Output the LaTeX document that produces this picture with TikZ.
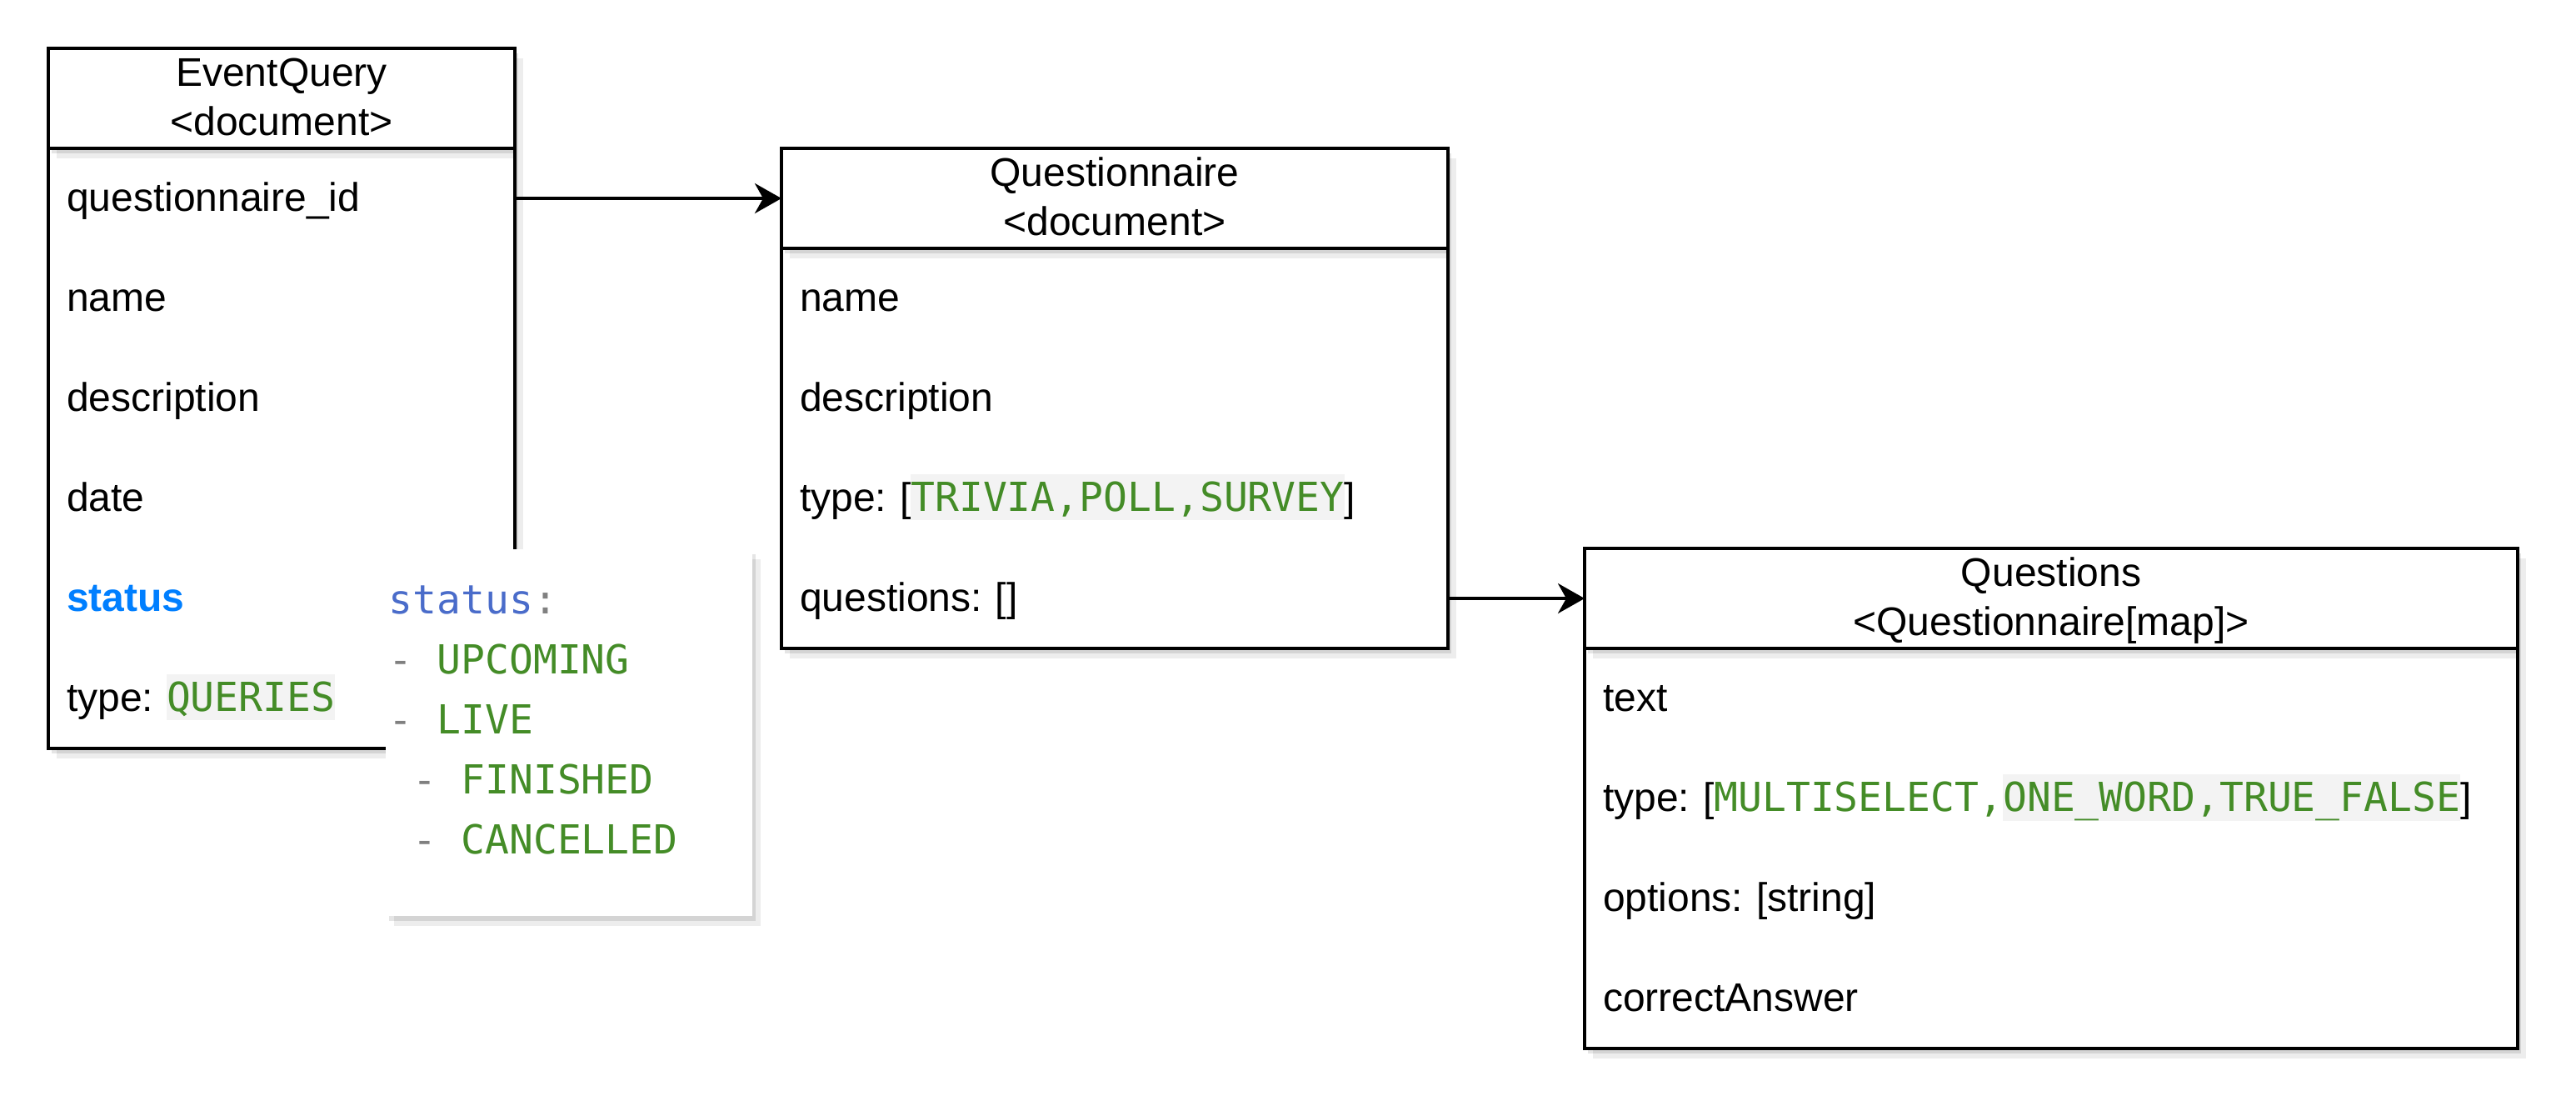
\documentclass[tikz,border=0pt]{standalone}
\usepackage{fontspec}
\setmainfont{Liberation Sans}
\newfontfamily\codefont{DejaVu Sans Mono}
\usetikzlibrary{arrows.meta,positioning,calc,shadows}

\definecolor{codegreen}{HTML}{448C27}
\definecolor{keyblue}{HTML}{4A6CCA}
\definecolor{dashgray}{HTML}{808080}
\definecolor{codebg}{HTML}{F3F3F3}
\definecolor{linkblue}{HTML}{007FFF}

\newcommand{\code}[1]{{\codefont\color{codegreen}#1}}
\newcommand{\codebox}[1]{{\setlength{\fboxsep}{0pt}\colorbox{codebg}{\rule[-2.8pt]{0pt}{13.9pt}\code{#1}}}}

\begin{document}
\frenchspacing
\begin{tikzpicture}[x=1pt, y=1pt,
		every node/.style={font=\fontsize{12}{14.4}\selectfont},
		softshadow/.style={drop shadow={shadow xshift=1pt, shadow yshift=-1.5pt, opacity=0.10, fill=black},
			drop shadow={shadow xshift=2.5pt, shadow yshift=-3pt, opacity=0.07, fill=black}},
		body/.style={rectangle, draw, line width=1pt, fill=white, inner sep=0pt, outer sep=0pt, anchor=north west, softshadow},
		head/.style={rectangle, draw, line width=1pt, fill=white, minimum width=#1, minimum height=30pt, inner sep=0pt, outer sep=0pt, softshadow},
		title/.style={anchor=base, inner sep=0pt},
		row/.style={rectangle, text width=#1, align=left, inner xsep=5.5pt, inner ysep=0pt, outer sep=0pt, minimum height=30pt, text height=9.6pt, text depth=2pt},
		popup/.style={rectangle, fill=white, anchor=north west, minimum width=110pt, minimum height=110pt, inner sep=0pt, softshadow},
		popline/.style={anchor=base west, inner sep=0pt, font=\codefont\fontsize{12}{18}\selectfont},
		link/.style={-{Stealth[length=8pt, width=9pt, inset=2.5pt]}, line width=1pt}
	]
	\path[use as bounding box, fill=white] (0,0) rectangle (773,-333);

	% EventQuery
	\node[body, minimum width=140pt, minimum height=180pt] (eqbody) at (14.5,-44.5) {};
	\node[head=140pt, above=0pt of eqbody] (eqhead) {};
	\node[title] (eqname) at ($(eqhead.north)+(0,-11.4)$) {EventQuery};
	\node[title] (eqkind) at ($(eqhead.north)+(0,-26.2)$) {\textless document\textgreater};
	\node[row=129pt, below=0pt of eqhead] (eq1) {questionnaire\_id};
	\node[row=129pt, below=0pt of eq1] (eq2) {name};
	\node[row=129pt, below=0pt of eq2] (eq3) {description};
	\node[row=129pt, below=0pt of eq3] (eq4) {date};
	\node[row=129pt, below=0pt of eq4] (eq5) {\textbf{\color{linkblue}status}};
	\node[row=129pt, below=0pt of eq5] (eq6) {type: \codebox{QUERIES}};

	% Questionnaire
	\node[body, minimum width=200pt, minimum height=120pt] (qnbody) at (234.5,-74.5) {};
	\node[head=200pt, above=0pt of qnbody] (qnhead) {};
	\node[title] (qnname) at ($(qnhead.north)+(0,-11.4)$) {Questionnaire};
	\node[title] (qnkind) at ($(qnhead.north)+(0,-26.2)$) {\textless document\textgreater};
	\node[row=189pt, below=0pt of qnhead] (qn1) {name};
	\node[row=189pt, below=0pt of qn1] (qn2) {description};
	\node[row=189pt, below=0pt of qn2] (qn3) {type: [\codebox{TRIVIA,POLL,SURVEY}]};
	\node[row=189pt, below=0pt of qn3] (qn4) {questions: []};

	% Questions
	\node[body, minimum width=280pt, minimum height=120pt] (qsbody) at (475.5,-194.5) {};
	\node[head=280pt, above=0pt of qsbody] (qshead) {};
	\node[title] (qsname) at ($(qshead.north)+(0,-11.4)$) {Questions};
	\node[title] (qskind) at ($(qshead.north)+(0,-26.2)$) {\textless Questionnaire[map]\textgreater};
	\node[row=269pt, below=0pt of qshead] (qs1) {text};
	\node[row=269pt, below=0pt of qs1] (qs2) {type: [\code{MULTISELECT,}\codebox{ONE\_WORD,TRUE\_FALSE}]};
	\node[row=269pt, below=0pt of qs2] (qs3) {options: [string]};
	\node[row=269pt, below=0pt of qs3] (qs4) {correctAnswer};

	% Links
	\draw[link] (eq1.east) -- (qnhead.west);
	\draw[link] (qn4.east) -- (qshead.west);

	% status values
	\node[popup] (stbox) at (115.5,-164.5) {};
	\node[popline] (st0) at (116.5,-184.2) {{\color{keyblue}status}{\color{dashgray}:}};
	\node[popline] (st1) at (116.5,-202.2) {{\color{dashgray}-} \code{UPCOMING}};
	\node[popline] (st2) at (116.5,-220.2) {{\color{dashgray}-} \code{LIVE}};
	\node[popline] (st3) at (116.5,-238.2) {\hphantom{-}{\color{dashgray}-} \code{FINISHED}};
	\node[popline] (st4) at (116.5,-256.2) {\hphantom{-}{\color{dashgray}-} \code{CANCELLED}};

\end{tikzpicture}
\end{document}
